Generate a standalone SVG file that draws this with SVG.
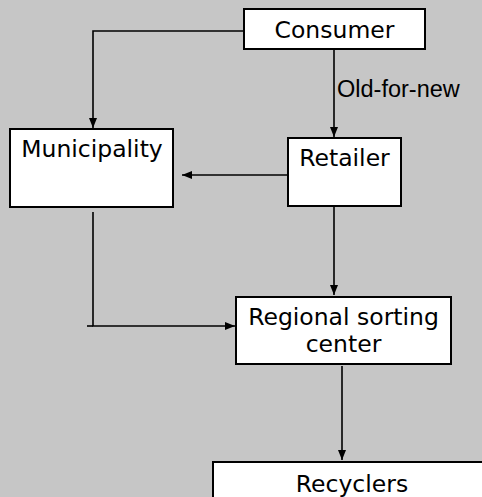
<svg xmlns="http://www.w3.org/2000/svg" width="482" height="497" viewBox="0 0 482 497">
<style>
.box{fill:#fff;stroke:#000;stroke-width:2}
.lbl{font-family:"DejaVu Sans",Verdana,sans-serif;font-size:23.5px;fill:#000;text-anchor:middle}
.edge{fill:none;stroke:#000;stroke-width:1.6}
.elbl{font-family:"Liberation Sans",Arial,sans-serif;font-size:23.5px;fill:#000}
</style>
<defs>
<marker id="ah" viewBox="0 0 10 8" refX="10" refY="4" markerWidth="10" markerHeight="8" markerUnits="userSpaceOnUse" orient="auto">
<path d="M0,0 L10,4 L0,8 Z" fill="#000"/>
</marker>
</defs>
<rect width="482" height="497" fill="#c6c6c6"/>
<g id="connectors">
<polyline class="edge" points="243,31 93,31 93,128" marker-end="url(#ah)"/>
<line class="edge" x1="334" y1="50" x2="334" y2="137" marker-end="url(#ah)"/>
<text class="elbl" x="337" y="97">Old-for-new</text>
<line class="edge" x1="288" y1="175" x2="182" y2="175" marker-end="url(#ah)"/>
<line class="edge" x1="334" y1="207" x2="334" y2="295" marker-end="url(#ah)"/>
<polyline class="edge" points="93,212 93,326 235,326" marker-end="url(#ah)"/>
<polyline class="edge" points="87,326 93,326"/>
<line class="edge" x1="342" y1="366" x2="342" y2="460" marker-end="url(#ah)"/>
</g>
<g id="consumer">
<rect class="box" x="244" y="9" width="181" height="40"/>
<text class="lbl" x="334.5" y="38">Consumer</text>
</g>
<g id="municipality">
<rect class="box" x="10" y="129" width="163" height="78"/>
<text class="lbl" x="92" y="157">Municipality</text>
</g>
<g id="retailer">
<rect class="box" x="288" y="138" width="113" height="68"/>
<text class="lbl" x="344.5" y="166">Retailer</text>
</g>
<g id="regional">
<rect class="box" x="236" y="297" width="215" height="67"/>
<text class="lbl" x="343.5" y="325">Regional sorting</text>
<text class="lbl" x="343.5" y="352">center</text>
</g>
<g id="recyclers">
<rect class="box" x="213" y="462" width="280" height="50"/>
<text class="lbl" x="352" y="492">Recyclers</text>
</g>
</svg>
